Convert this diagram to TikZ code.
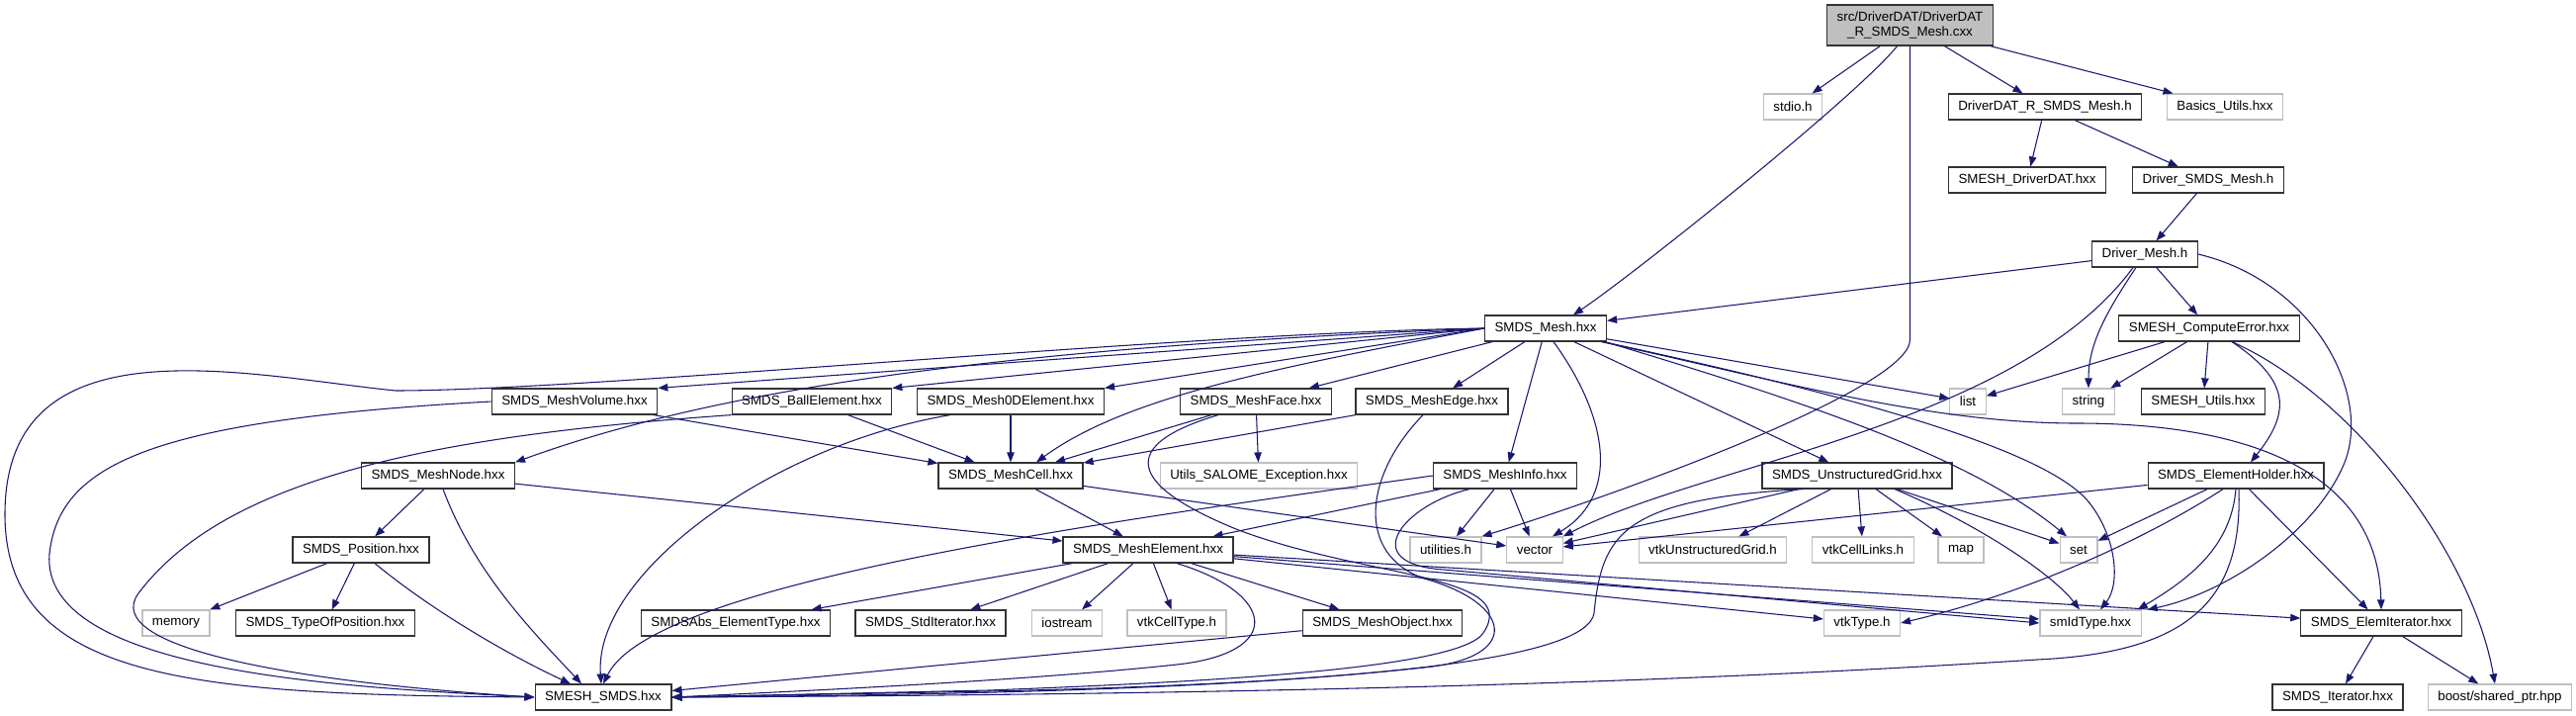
\documentclass[tikz,border=0pt]{standalone}
\usepackage{fontspec}
\setmainfont{Liberation Sans}
\usetikzlibrary{arrows.meta,calc}
\definecolor{edgeblue}{HTML}{191970}
\definecolor{extgray}{HTML}{BFBFBF}
\tikzset{
  hdr/.style={draw=black!80, line width=0.9pt, fill=white, inner xsep=7.5pt, inner ysep=0pt,
    minimum height=19.5pt, font=\fontsize{10}{11.25}\selectfont},
  exthdr/.style={hdr, draw=extgray},
  rootfile/.style={hdr, fill=extgray, align=center, minimum height=30.75pt},
  dep/.style={-{Triangle[length=7.5pt,width=5.6pt]}, edgeblue, line width=0.8pt},
}

\begin{document}
\begin{tikzpicture}[x=0.75pt,y=-0.75pt]
\path[use as bounding box, fill=white] (0,0) rectangle (2605,724);

\node[rootfile] (root) at (1931.5,25.5) {src/DriverDAT/DriverDAT\\\_R\_SMDS\_Mesh.cxx};
\node[exthdr] (stdio) at (1813,108) {stdio.h};
\node[hdr] (drvdath) at (2068,108) {DriverDAT\_R\_SMDS\_Mesh.h};
\node[exthdr] (basics) at (2250,108) {Basics\_Utils.hxx};
\node[hdr] (smeshdrvdat) at (2050,182) {SMESH\_DriverDAT.hxx};
\node[hdr] (drvsmds) at (2233,182) {Driver\_SMDS\_Mesh.h};
\node[hdr] (drvmesh) at (2169,257) {Driver\_Mesh.h};
\node[hdr] (smdsmesh) at (1563,332) {SMDS\_Mesh.hxx};
\node[hdr] (comperr) at (2234,332) {SMESH\_ComputeError.hxx};
\node[hdr] (meshvol) at (581,406) {SMDS\_MeshVolume.hxx};
\node[hdr] (ball) at (821,406) {SMDS\_BallElement.hxx};
\node[hdr] (mesh0d) at (1022,406) {SMDS\_Mesh0DElement.hxx};
\node[hdr] (meshface) at (1270,406) {SMDS\_MeshFace.hxx};
\node[hdr] (meshedge) at (1448,406) {SMDS\_MeshEdge.hxx};
\node[exthdr] (list) at (1990,406) {list};
\node[exthdr] (string) at (2112,406) {string};
\node[hdr] (smeshutils) at (2228,406) {SMESH\_Utils.hxx};
\node[hdr] (meshnode) at (443,481) {SMDS\_MeshNode.hxx};
\node[hdr] (meshcell) at (1022,481) {SMDS\_MeshCell.hxx};
\node[exthdr] (utilsexc) at (1273,481) {Utils\_SALOME\_Exception.hxx};
\node[hdr] (meshinfo) at (1522,481) {SMDS\_MeshInfo.hxx};
\node[hdr] (ugrid) at (1878,481) {SMDS\_UnstructuredGrid.hxx};
\node[hdr] (elemholder) at (2261,481) {SMDS\_ElementHolder.hxx};
\node[hdr] (position) at (365,556) {SMDS\_Position.hxx};
\node[hdr] (meshelem) at (1161,556) {SMDS\_MeshElement.hxx};
\node[exthdr] (utilities) at (1462,556) {utilities.h};
\node[exthdr] (vector) at (1552,556) {vector};
\node[exthdr] (vtkugrid) at (1732,556) {vtkUnstructuredGrid.h};
\node[exthdr] (vtkcelllinks) at (1884,556) {vtkCellLinks.h};
\node[exthdr] (map) at (1983,556) {map};
\node[exthdr] (set) at (2102,556) {set};
\node[exthdr] (memory) at (178,630) {memory};
\node[hdr] (typeofpos) at (329,630) {SMDS\_TypeOfPosition.hxx};
\node[hdr] (elemtype) at (744,630) {SMDSAbs\_ElementType.hxx};
\node[hdr] (stditer) at (941,630) {SMDS\_StdIterator.hxx};
\node[exthdr] (iostream) at (1079,630) {iostream};
\node[exthdr] (vtkcelltype) at (1190,630) {vtkCellType.h};
\node[hdr] (meshobject) at (1398,630) {SMDS\_MeshObject.hxx};
\node[exthdr] (vtktype) at (1883,630) {vtkType.h};
\node[exthdr] (smidtype) at (2114,630) {smIdType.hxx};
\node[hdr] (elemiter) at (2408,630) {SMDS\_ElemIterator.hxx};
\node[hdr] (smeshsmds) at (610,705) {SMESH\_SMDS.hxx};
\node[hdr] (smdsiter) at (2364,705) {SMDS\_Iterator.hxx};
\node[exthdr] (boost) at (2528,705) {boost/shared\_ptr.hpp};

\draw[dep] (root) -- (stdio);
\draw[dep] ($(root.south)+(-13,0)$) .. controls +(-40,50) and +(60,-40) .. ($(smdsmesh.north)+(28,0)$);
\draw[dep] (root.south) -- ++(0,297) .. controls +(0,50) and +(130,-40) .. (utilities.north east);
\draw[dep] (root) -- (drvdath);
\draw[dep] (root) -- (basics);
\draw[dep] (drvdath) -- (smeshdrvdat);
\draw[dep] (drvdath) -- (drvsmds);
\draw[dep] (drvsmds) -- (drvmesh);
\draw[dep] (drvmesh) -- (smdsmesh);
\draw[dep] (drvmesh) -- (comperr);
\draw[dep] ($(drvmesh.south)+(-9,0)$) .. controls +(-30,45) and +(0,-45) .. (string.north);
\draw[dep] ($(drvmesh.south)+(-12,0)$) .. controls (2040,430) and (1720,470) .. (vector.north east);
\draw[dep] (drvmesh.east) .. controls (2340,285) and (2400,400) .. (2370,470) .. controls (2340,540) and (2250,600) .. ($(smidtype.north east)+(6,0)$);
\draw[dep] (comperr) -- (list);
\draw[dep] (comperr) -- (string);
\draw[dep] (comperr) -- (smeshutils);
\draw[dep] ($(comperr.south)+(23,0)$) .. controls +(60,40) and +(40,-50) .. ($(elemholder.north)+(15,0)$);
\draw[dep] ($(comperr.south)+(23,0)$) .. controls (2380,400) and (2500,560) .. ($(boost.north)+(-5,0)$);

\draw[dep] (smdsmesh) -- (list);
\draw[dep] (smdsmesh) -- (ugrid);
\draw[dep] ($(smdsmesh.south east)+(-6,0)$) .. controls (1800,385) and (1950,428) .. (2100,428) .. controls (2280,428) and (2405,480) .. (elemiter.north);
\draw[dep] ($(smdsmesh.south east)+(-4,0)$) .. controls (1850,395) and (2060,450) .. (2110,505) .. controls (2140,540) and (2145,590) .. ($(smidtype.north)+(10,0)$);
\draw[dep] ($(smdsmesh.south east)+(-2,0)$) .. controls (1820,405) and (1990,460) .. ($(set.north)+(-12,0)$);
\draw[dep] ($(smdsmesh.south)+(8,0)$) .. controls (1625,420) and (1640,500) .. ($(vector.north)+(18,0)$);
\draw[dep] (smdsmesh) -- (meshinfo);
\draw[dep] (smdsmesh) -- (meshedge);
\draw[dep] (smdsmesh) -- (meshface);
\draw[dep] (smdsmesh.west) .. controls (1300,370) and (1140,400) .. ($(meshcell.north)+(26,0)$);
\draw[dep] (smdsmesh.west) -- (mesh0d.north east);
\draw[dep] (smdsmesh.west) -- (ball.north east);
\draw[dep] (smdsmesh.west) -- (meshvol.north east);
\draw[dep] (smdsmesh.west) .. controls (1000,352) and (720,395) .. (meshnode.north east);
\draw[dep] (smdsmesh.west) .. controls (1200,336) and (600,395) .. (400,395) .. controls (250,380) and (5,320) .. (5,520) .. controls (5,690) and (200,702) .. (smeshsmds.west);

\draw[dep] (meshvol) -- (meshcell);
\draw[dep] (meshvol.west) .. controls (150,425) and (60,470) .. (50,560) .. controls (40,680) and (350,695) .. (smeshsmds.west);
\draw[dep] (ball) -- (meshcell);
\draw[dep] (ball.south west) .. controls (450,440) and (230,480) .. (140,600) .. controls (100,655) and (300,690) .. (smeshsmds.west);
\draw[dep] (mesh0d) -- (meshcell);
\draw[dep] ($(mesh0d.south)+(-61,0)$) .. controls (780,450) and (600,580) .. ($(smeshsmds.north)+(-2,0)$);
\draw[dep] (meshface) -- (meshcell);
\draw[dep] (meshface) -- (utilsexc);
\draw[dep] ($(meshface.south)+(-38,0)$) .. controls (1130,450) and (1140,490) .. (1250,535) .. controls (1380,585) and (1540,580) .. (1500,640) .. controls (1475,678) and (1200,690) .. (1000,698) -- (smeshsmds.east);
\draw[dep] (meshedge) -- (meshcell);
\draw[dep] ($(meshedge.south)+(-9,0)$) .. controls (1380,480) and (1370,560) .. (1440,585) .. controls (1530,610) and (1540,665) .. (1440,675) .. controls (1300,690) and (1100,702) .. (smeshsmds.east);

\draw[dep] (meshnode) -- (position);
\draw[dep] (meshnode) -- (meshelem);
\draw[dep] ($(meshnode.south)+(5,0)$) .. controls (480,580) and (540,640) .. ($(smeshsmds.north)+(-22,0)$);
\draw[dep] (position) -- (memory);
\draw[dep] (position) -- (typeofpos);
\draw[dep] ($(position.south)+(14,0)$) .. controls (440,620) and (520,665) .. ($(smeshsmds.north)+(-33,0)$);
\draw[dep] (meshcell) -- (meshelem);
\draw[dep] (meshcell) -- (vector);

\draw[dep] (meshinfo) -- (meshelem);
\draw[dep] (meshinfo) -- (utilities);
\draw[dep] (meshinfo) -- (vector);
\draw[dep] ($(meshinfo.south)+(-36,0)$) .. controls (1420,510) and (1370,570) .. (1460,576) -- (smidtype.west);
\draw[dep] (meshinfo.west) .. controls (1100,530) and (660,590) .. (smeshsmds.north);

\draw[dep] (meshelem) -- (elemtype);
\draw[dep] (meshelem) -- (stditer);
\draw[dep] (meshelem) -- (iostream);
\draw[dep] (meshelem) -- (vtkcelltype);
\draw[dep] (meshelem) -- (meshobject);
\draw[dep] (meshelem) -- (vtktype);
\draw[dep] (meshelem) -- (smidtype);
\draw[dep] (meshelem) -- (elemiter);
\draw[dep] ($(meshelem.south)+(29,0)$) .. controls (1290,600) and (1300,660) .. (1190,672) .. controls (1050,687) and (850,697) .. (smeshsmds.east);
\draw[dep] (meshobject) -- (smeshsmds);

\draw[dep] (ugrid) -- (vector);
\draw[dep] ($(ugrid.south)+(-55,0)$) .. controls (1640,505) and (1620,540) .. (1612,620) .. controls (1605,665) and (1400,690) .. (1000,699) -- (smeshsmds.east);
\draw[dep] (ugrid) -- (vtkugrid);
\draw[dep] (ugrid) -- (vtkcelllinks);
\draw[dep] (ugrid) -- (map);
\draw[dep] (ugrid) -- (set);
\draw[dep] ($(ugrid.south)+(38,0)$) .. controls (2000,530) and (2075,580) .. ($(smidtype.north)+(-11,0)$);

\draw[dep] (elemholder) -- (vector);
\draw[dep] (elemholder) -- (set);
\draw[dep] ($(elemholder.south)+(-13,0)$) .. controls (2170,545) and (2050,600) .. (vtktype.east);
\draw[dep] (elemholder.south) .. controls +(-5,60) and +(50,-30) .. ($(smidtype.north east)+(-4,0)$);
\draw[dep] ($(elemholder.south)+(3,0)$) .. controls (2268,610) and (2210,660) .. (2060,667) .. controls (1700,690) and (1300,702) .. (smeshsmds.east);
\draw[dep] (elemholder) -- (elemiter);
\draw[dep] (elemiter) -- (smdsiter);
\draw[dep] (elemiter) -- (boost);
\end{tikzpicture}
\end{document}
